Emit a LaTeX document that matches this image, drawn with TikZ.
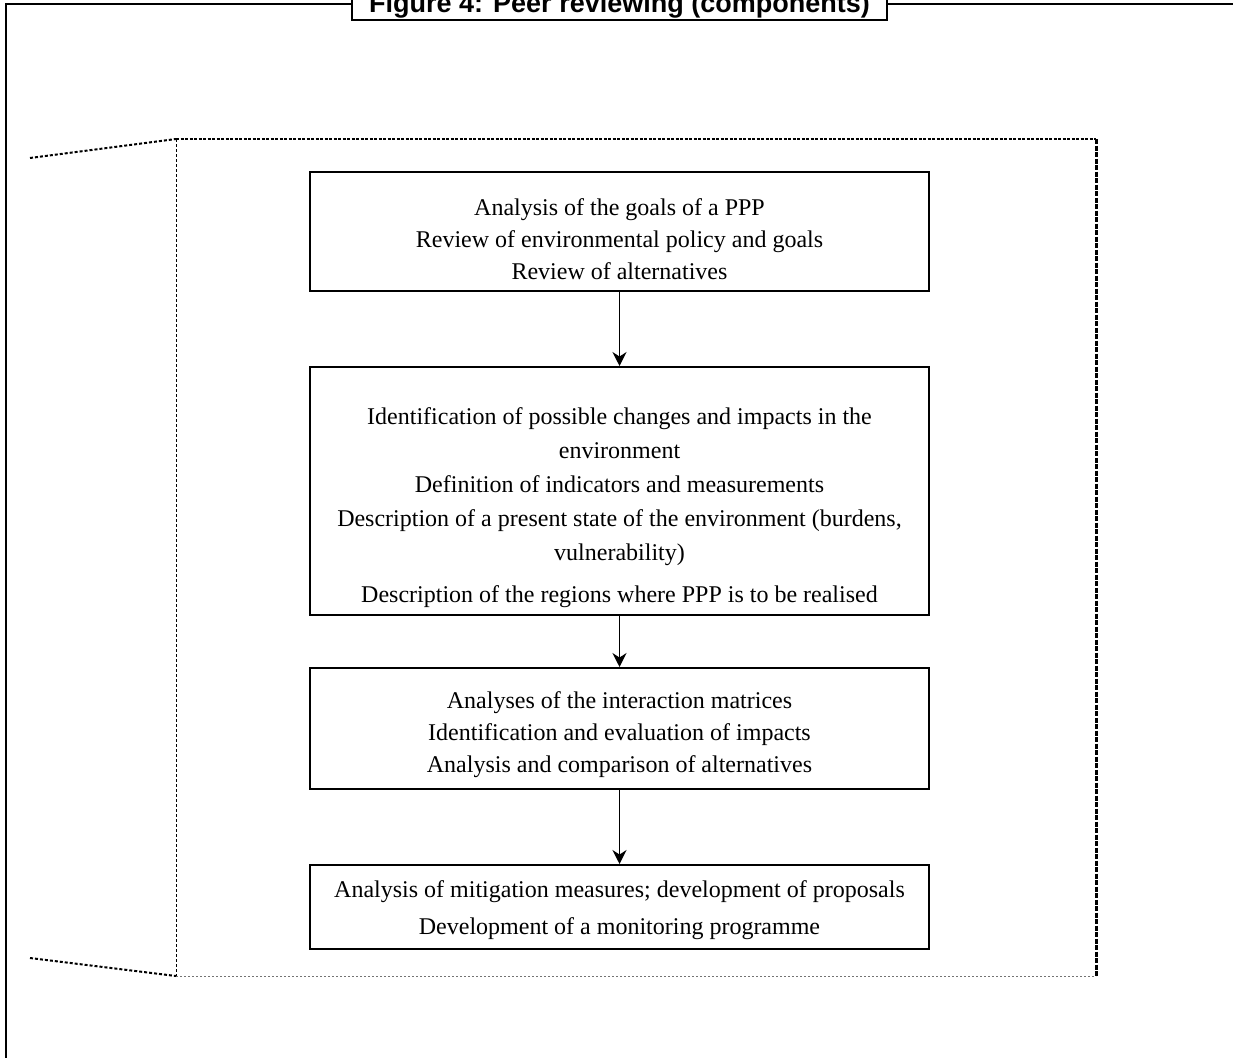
\documentclass[tikz,border=0pt]{standalone}
\usepackage{fontspec}
\setmainfont{Liberation Serif}
\newfontfamily\titlefont{Liberation Sans}
\usetikzlibrary{arrows.meta}
\begin{document}
\begin{tikzpicture}[x=1pt,y=-1pt,
  stagebox/.style={draw, line width=1.8pt, minimum width=619pt, anchor=north, inner sep=0pt},
  stagetext/.style={align=center, font=\fontsize{24}{34}\selectfont, inner sep=0pt},
  flow/.style={line width=1.6pt, -{Stealth[length=14pt,width=14pt]}},
  titlebox/.style={draw, line width=1.6pt, fill=white, inner sep=0pt, minimum width=535pt, minimum height=34pt, text height=22pt, text depth=2pt, font=\titlefont\bfseries\fontsize{27}{30}\selectfont},
  frameline/.style={line width=2.2pt},
  topdot/.style={line width=2.5pt, dash pattern=on 3pt off 1.5pt},
  slantdot/.style={line width=2pt, dash pattern=on 3pt off 2pt},
  rightdash/.style={line width=3pt, dash pattern=on 5pt off 1.5pt},
  leftdash/.style={line width=0.9pt, dash pattern=on 3pt off 2pt},
  bottomdot/.style={line width=0.8pt, black!55, dash pattern=on 2pt off 2pt}]
\useasboundingbox (0,0) rectangle (1233,1057);
% outer frame
\coordinate (fr1) at (1245,4);
\coordinate (fr2) at (6,4);
\coordinate (fr3) at (6,1070);
\draw[frameline] (fr1) -- (fr2) -- (fr3);
\node[titlebox] (title) at (619.5,3) {Figure 4: Peer reviewing (components)};
% dotted region
\coordinate (tl) at (176,139);
\coordinate (tr) at (1096,139);
\coordinate (br) at (1096,976);
\coordinate (bl) at (176,976);
\coordinate (sl1) at (30,158);
\coordinate (sl2) at (30,958);
\draw[slantdot] (sl1) -- (tl);
\draw[topdot] (tl) -- (tr);
\draw[rightdash] (tr) -- (br);
\draw[bottomdot] (bl) -- (br);
\draw[leftdash] (tl) -- (bl);
\draw[slantdot] (sl2) -- (bl);
% boxes
\node[stagebox, minimum height=119pt] (b1) at (619.5,171) {};
\node[stagetext, font=\fontsize{24}{32}\selectfont] (t1) at (619.5,239) {Analysis of the goals of a PPP\\Review of environmental policy and goals\\Review of alternatives};
\node[stagebox, minimum height=248pt] (b2) at (619.5,366) {};
\node[stagetext] (t2) at (619.5,508) {Identification of possible changes and impacts in the\\environment\\Definition of indicators and measurements\\Description of a present state of the environment (burdens,\\vulnerability)\\[8pt]Description of the regions where PPP is to be realised};
\node[stagebox, minimum height=121pt] (b3) at (619.5,667) {};
\node[stagetext, font=\fontsize{24}{32}\selectfont] (t3) at (619.5,735) {Analyses of the interaction matrices\\Identification and evaluation of impacts\\Analysis and comparison of alternatives};
\node[stagebox, minimum height=84pt] (b4) at (619.5,864) {};
\node[stagetext, font=\fontsize{24}{37}\selectfont] (t4) at (619.5,910) {Analysis of mitigation measures; development of proposals\\Development of a monitoring programme};
% arrows
\draw[flow] (b1.south) -- (b2.north);
\draw[flow] (b2.south) -- (b3.north);
\draw[flow] (b3.south) -- (b4.north);
\end{tikzpicture}
\end{document}
